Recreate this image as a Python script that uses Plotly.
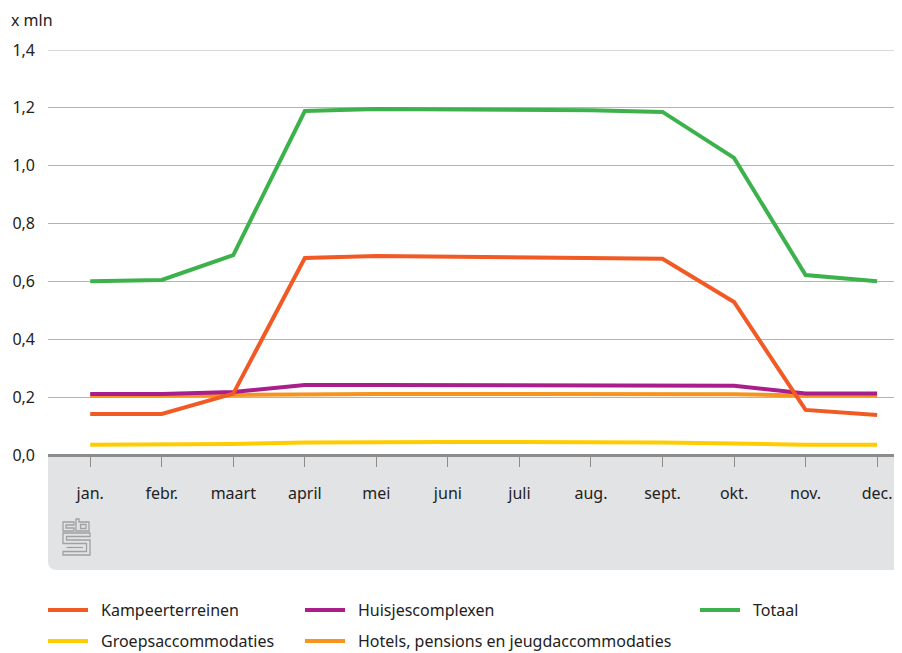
import plotly.graph_objects as go

months = ["jan.", "febr.", "maart", "april", "mei", "juni", "juli", "aug.", "sept.", "okt.", "nov.", "dec."]

kampeerterreinen = [0.142, 0.142, 0.212, 0.681, 0.688, 0.686, 0.683, 0.683, 0.678, 0.529, 0.156, 0.138]
huisjescomplexen = [0.211, 0.211, 0.218, 0.242, 0.242, 0.242, 0.241, 0.241, 0.241, 0.239, 0.213, 0.213]
totaal = [0.601, 0.605, 0.691, 1.189, 1.196, 1.194, 1.192, 1.192, 1.186, 1.027, 0.622, 0.601]
groepsaccommodaties = [0.035, 0.035, 0.038, 0.043, 0.045, 0.045, 0.045, 0.045, 0.043, 0.040, 0.035, 0.035]
hotels = [0.204, 0.206, 0.209, 0.211, 0.211, 0.211, 0.211, 0.211, 0.210, 0.210, 0.206, 0.206]

y_ticks = [0, 0.2, 0.4, 0.6, 0.8, 1.0, 1.2, 1.4]

series = [
    ("Groepsaccommodaties", groepsaccommodaties, "#FFCC00"),
    ("Hotels, pensions en jeugdaccommodaties", hotels, "#F7941D"),
    ("Huisjescomplexen", huisjescomplexen, "#AA1E8C"),
    ("Kampeerterreinen", kampeerterreinen, "#F15A24"),
    ("Totaal", totaal, "#3DB14B"),
]
colors = {n: c for n, _, c in series}

OFF = 8  # page body margin
W, H = 902 - OFF, 653 - OFF
L, R = 48 - OFF, 2
T = 50 - OFF
B = H - (455 - OFF)
PW = W - L - R
PH = H - T - B
FONT = "Noto Sans"
FS = 16

def px(x):  # screen pixel -> paper
    return (x - OFF - L) / PW

def py(y):
    return (T + PH - (y - OFF)) / PH

fig = go.Figure()
for name, vals, col in series:
    fig.add_trace(go.Scatter(
        x=list(range(len(months))), y=vals, name=name, mode="lines",
        line=dict(color=col, width=4), showlegend=False,
        hovertemplate="%{y:.3f}<extra>" + name + "</extra>",
    ))

shapes = []
x0, x1, y0, y1, r = 48, 903, 455, 570, 9
band = (f"M{px(x0)},{py(y0)} L{px(x1)},{py(y0)} L{px(x1)},{py(y1)} "
        f"L{px(x0 + r)},{py(y1)} Q{px(x0)},{py(y1)} {px(x0)},{py(y1 - r)} Z")
shapes.append(dict(type="path", path=band, xref="paper", yref="paper",
                   fillcolor="#E2E3E5", line=dict(width=0), layer="below"))
shapes.append(dict(type="line", xref="paper", yref="paper", x0=px(48), x1=px(903),
                   y0=py(455.5), y1=py(455.5), line=dict(color="#8C8C8C", width=3), layer="above"))
# top gridline (range edge)
shapes.append(dict(type="line", xref="paper", yref="y", x0=0, x1=1,
                   y0=y_ticks[-1], y1=y_ticks[-1], line=dict(color="#B4B4B4", width=1), layer="below"))

def poly(points, closed=True):
    s = "M" + " L".join(f"{px(a)},{py(b)}" for a, b in points)
    return s + (" Z" if closed else "")

logo_col = "#A0A0A0"
logo_paths = [
    [(74, 522), (63, 522), (63, 531), (74, 531), (74, 528), (66, 528), (66, 525), (74, 525)],
    [(76, 519), (79, 519), (79, 522), (89, 522), (89, 531), (76, 531)],
    [(80.5, 524.5), (86, 524.5), (86, 528.5), (80.5, 528.5)],
    [(63, 533), (90, 533), (90, 536.5), (66.5, 536.5), (66.5, 540), (90, 540), (90, 555),
     (63, 555), (63, 551.5), (86.5, 551.5), (86.5, 543.5), (63, 543.5)],
    [(66.5, 547.5), (83, 547.5)],
]
for i, p in enumerate(logo_paths):
    shapes.append(dict(type="path", path=poly(p, closed=(i != 4)), xref="paper", yref="paper",
                       line=dict(color=logo_col, width=1.3), layer="above"))

legend_pos = [
    ("Kampeerterreinen", 48, 610),
    ("Huisjescomplexen", 305, 610),
    ("Totaal", 700, 610),
    ("Groepsaccommodaties", 48, 641),
    ("Hotels, pensions en jeugdaccommodaties", 305, 641),
]
annotations = [dict(text="x mln", xref="paper", yref="paper", x=px(9), y=py(20),
                    xanchor="left", yanchor="middle", showarrow=False,
                    font=dict(family=FONT, size=FS, color="#222222"))]
for name, lx, ly in legend_pos:
    shapes.append(dict(type="line", xref="paper", yref="paper", x0=px(lx), x1=px(lx + 40),
                       y0=py(ly), y1=py(ly), line=dict(color=colors[name], width=4)))
    annotations.append(dict(text=name, xref="paper", yref="paper", x=px(lx + 51), y=py(ly - 0.5),
                            xanchor="left", yanchor="middle", showarrow=False,
                            font=dict(family=FONT, size=FS, color="#222222")))

fig.update_layout(
    width=W, height=H,
    margin=dict(l=L, r=R, t=T, b=B),
    paper_bgcolor="white", plot_bgcolor="white",
    separators=",.",
    font=dict(family=FONT, size=FS, color="#222222"),
    shapes=shapes, annotations=annotations,
    xaxis=dict(
        range=[-0.59, 11.32], tickmode="array", tickvals=list(range(len(months))),
        ticktext=months, showgrid=False, zeroline=False, showline=False,
        ticks="outside", ticklen=11, tickwidth=1, tickcolor="#8C8C8C",
        ticklabelstandoff=13, tickfont=dict(family=FONT, size=FS, color="#222222"),
        fixedrange=True,
    ),
    yaxis=dict(
        range=[0, 1.4], tickmode="array", tickvals=y_ticks,
        ticktext=[f"{v:.1f}".replace(".", ",") for v in y_ticks],
        showgrid=True, gridcolor="#B4B4B4", gridwidth=1, zeroline=False, showline=False,
        ticks="", ticklabelstandoff=12, tickfont=dict(family=FONT, size=FS, color="#222222"),
        fixedrange=True,
    ),
    showlegend=False,
)

fig.write_html("out.html")
